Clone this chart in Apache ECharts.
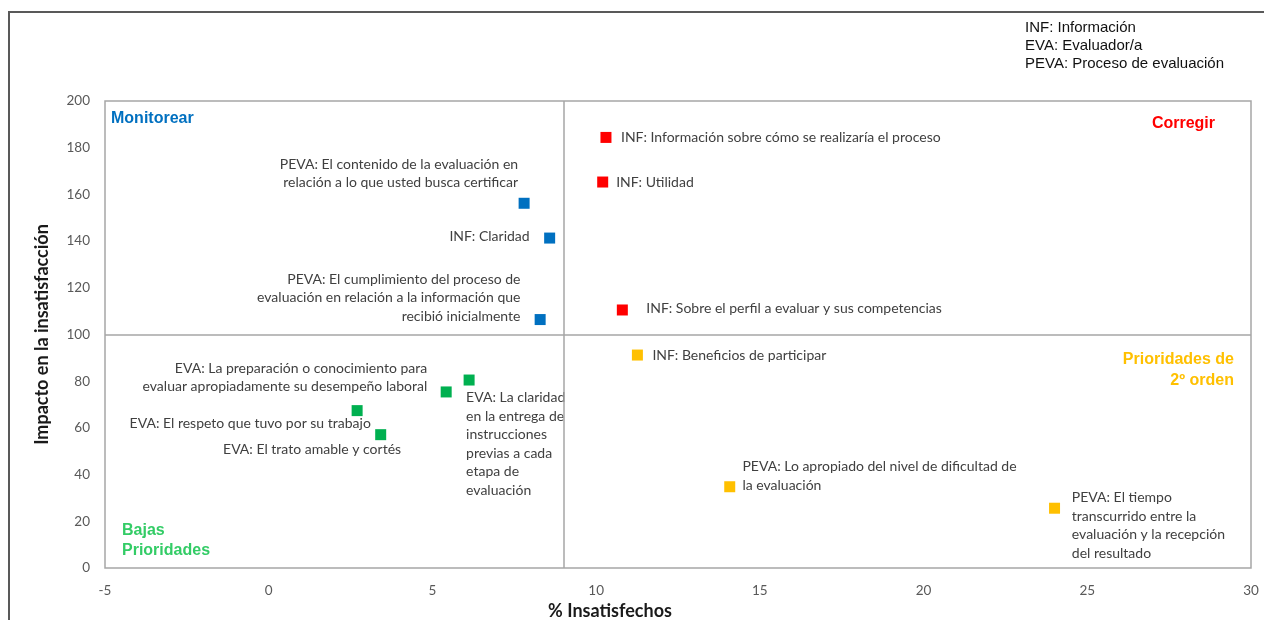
<!DOCTYPE html>
<html>
<head>
<meta charset="utf-8">
<script src="https://cdn.jsdelivr.net/npm/echarts@6/dist/echarts.min.js"></script>
<style>
  html, body { margin: 0; padding: 0; background: #ffffff; }
  #chart { width: 1264px; height: 620px; }
</style>
</head>
<body>
<div id="chart"></div>
<script>
// Axis ranges and quadrant thresholds
const xTicks = { min: -5, max: 30, step: 5 };
const yTicks = { min: 0, max: 200, step: 20 };
const xThreshold = 9;
const yThreshold = 100;

// Corregir (high % unsatisfied, high impact)
const corregirLabels = [
  'INF: Información sobre cómo se realizaría el proceso',
  'INF: Utilidad',
  'INF: Sobre el perfil a evaluar y sus competencias'
];
const corregirPct = [10.3, 10.2, 10.8];
const corregirImpact = [184.4, 165.3, 110.5];

// Monitorear (low % unsatisfied, high impact)
const monitorearLabels = [
  'PEVA: El contenido de la evaluación en\nrelación a lo que usted busca certificar',
  'INF: Claridad',
  'PEVA: El cumplimiento del proceso de\nevaluación en relación a la información que\nrecibió inicialmente'
];
const monitorearPct = [7.8, 8.58, 8.29];
const monitorearImpact = [156.2, 141.3, 106.4];

// Prioridades de 2º orden (high % unsatisfied, low impact)
const segundoLabels = [
  'INF: Beneficios de participar',
  'PEVA: Lo apropiado del nivel de dificultad de\nla evaluación',
  'PEVA: El tiempo\ntranscurrido entre la\nevaluación y la recepción\ndel resultado'
];
const segundoPct = [11.26, 14.08, 24.0];
const segundoImpact = [91.2, 34.8, 25.6];

// Bajas prioridades (low % unsatisfied, low impact)
const bajasLabels = [
  'EVA: La claridad\nen la entrega de\ninstrucciones\nprevias a cada\netapa de\nevaluación',
  'EVA: La preparación o conocimiento para\nevaluar apropiadamente su desempeño laboral',
  'EVA: El respeto que tuvo por su trabajo',
  'EVA: El trato amable y cortés'
];
const bajasPct = [6.12, 5.42, 2.7, 3.42];
const bajasImpact = [80.5, 75.4, 67.4, 57.1];

// Where each point's label sits relative to its marker: [align, dx, dy]
const corregirPlacement = [['left', 15, 0], ['left', 13.5, 0], ['left', 24, -1.5]];
const monitorearPlacement = [['right', -6, -30], ['right', -20, -1.3], ['right', -19.7, -21.7]];
const segundoPlacement = [['left', 15, 0], ['left', 12.7, -11], ['left', 17.3, 17.5]];
const bajasPlacement = [['left', -3, 64], ['right', -19, -14.5], ['right', 13.7, 12.6], ['right', 20.4, 15.3]];

const labelFont = 'Lato, "Open Sans", sans-serif';

function buildPoints(labels, xs, ys, placement) {
  return labels.map((name, i) => ({
    name: name,
    value: [xs[i], ys[i]],
    label: {
      show: true,
      position: 'inside',
      align: placement[i][0],
      verticalAlign: 'middle',
      offset: [placement[i][1], placement[i][2]],
      formatter: '{b}'
    }
  }));
}

function scatterSeries(name, color, points, extra) {
  return Object.assign({
    name: name,
    type: 'scatter',
    symbol: 'rect',
    symbolSize: 11,
    itemStyle: { color: color, opacity: 1 },
    label: {
      color: '#404040',
      fontFamily: labelFont,
      fontSize: 14,
      lineHeight: 18.5
    },
    emphasis: { disabled: true },
    data: points
  }, extra || {});
}

const chart = echarts.init(document.getElementById('chart'), null, { renderer: 'canvas' });

chart.setOption({
  animation: false,
  backgroundColor: '#ffffff',
  grid: {
    left: 105, right: 13, top: 101, bottom: 52,
    show: true,
    borderColor: '#A6A6A6',
    borderWidth: 1.5
  },
  xAxis: {
    type: 'value',
    min: xTicks.min, max: xTicks.max, interval: xTicks.step,
    axisLine: { show: false },
    axisTick: { show: false },
    splitLine: { show: false },
    axisLabel: { color: '#595959', fontFamily: labelFont, fontSize: 13.5, margin: 16 }
  },
  yAxis: {
    type: 'value',
    min: yTicks.min, max: yTicks.max, interval: yTicks.step,
    name: 'Impacto en la insatisfacción',
    nameLocation: 'middle',
    nameRotate: 90,
    nameGap: 54,
    nameTextStyle: { color: '#1a1a1a', fontFamily: labelFont, fontSize: 18, fontWeight: 'bold' },
    axisLine: { show: false },
    axisTick: { show: false },
    splitLine: { show: false },
    axisLabel: { color: '#595959', fontFamily: labelFont, fontSize: 13.5, margin: 15 }
  },
  graphic: [
    // outer frame
    { type: 'polyline', silent: true, shape: { points: [[9, 640], [9, 12], [1280, 12]] },
      style: { stroke: '#595959', lineWidth: 2, fill: null } },
    { type: 'text', silent: true,
      style: { text: '% Insatisfechos', x: 610, y: 611, align: 'center', verticalAlign: 'middle',
        fill: '#1a1a1a', font: 'bold 18px Lato, "Open Sans", sans-serif' } },
    { type: 'text', silent: true,
      style: { text: 'INF: Información\nEVA: Evaluador/a\nPEVA: Proceso de evaluación',
        x: 1025, y: 19, lineHeight: 18, fill: '#111111',
        font: '15px "Liberation Sans", Arial, sans-serif' } },
    { type: 'text', silent: true,
      style: { text: 'Monitorear', x: 111, y: 119, verticalAlign: 'middle', fill: '#0070C0',
        font: 'bold 16px "Liberation Sans", Arial, sans-serif' } },
    { type: 'text', silent: true,
      style: { text: 'Corregir', x: 1215, y: 124, align: 'right', verticalAlign: 'middle', fill: '#FF0000',
        font: 'bold 16px "Liberation Sans", Arial, sans-serif' } },
    { type: 'text', silent: true,
      style: { text: 'Prioridades de\n2º orden', x: 1234, y: 349, align: 'right', lineHeight: 21,
        fill: '#FFC000', font: 'bold 16px "Liberation Sans", Arial, sans-serif' } },
    { type: 'text', silent: true,
      style: { text: 'Bajas\nPrioridades', x: 122, y: 521, lineHeight: 19.5,
        fill: '#33CC66', font: 'bold 16px "Liberation Sans", Arial, sans-serif' } }
  ],
  series: [
    scatterSeries('Corregir', '#FF0000', buildPoints(corregirLabels, corregirPct, corregirImpact, corregirPlacement), {
      markLine: {
        silent: true,
        symbol: 'none',
        label: { show: false },
        lineStyle: { color: '#A6A6A6', width: 1.5, type: 'solid' },
        emphasis: { disabled: true },
        data: [{ xAxis: xThreshold }, { yAxis: yThreshold }]
      }
    }),
    scatterSeries('Monitorear', '#0070C0', buildPoints(monitorearLabels, monitorearPct, monitorearImpact, monitorearPlacement)),
    scatterSeries('Prioridades de 2º orden', '#FFC000', buildPoints(segundoLabels, segundoPct, segundoImpact, segundoPlacement)),
    scatterSeries('Bajas Prioridades', '#00B050', buildPoints(bajasLabels, bajasPct, bajasImpact, bajasPlacement))
  ]
});
</script>
</body>
</html>
